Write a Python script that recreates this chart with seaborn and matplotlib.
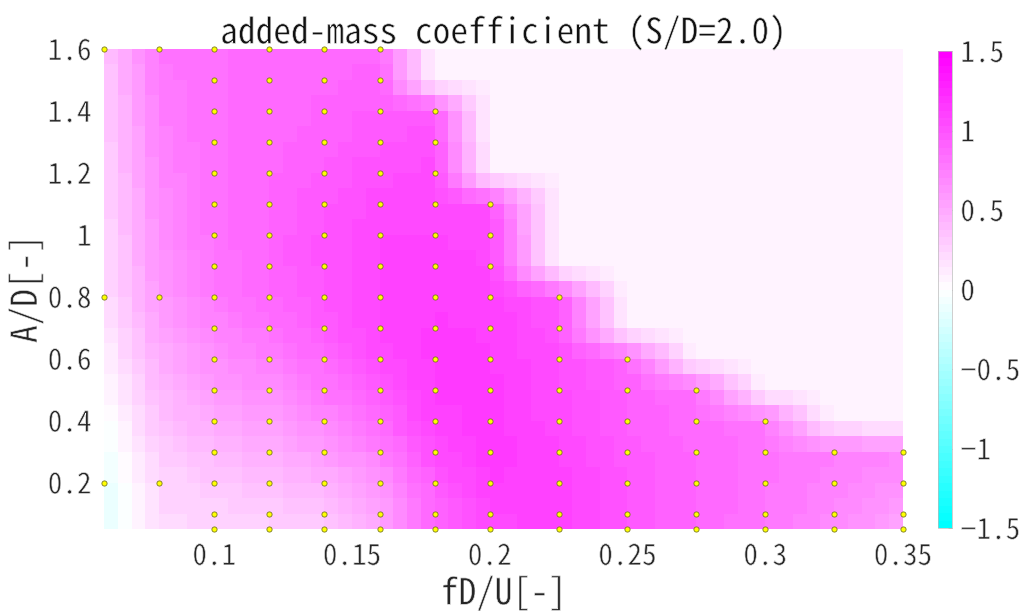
import numpy as np
import pandas as pd
import matplotlib
matplotlib.use("Agg")
import matplotlib.pyplot as plt
import matplotlib.patheffects as pe
import seaborn as sns
from matplotlib.colors import LinearSegmentedColormap

# Measurement grid
fd_u = [0.06, 0.08, 0.10, 0.12, 0.14, 0.16, 0.18, 0.20, 0.225, 0.25, 0.275, 0.30, 0.325, 0.35]
ad_sparse = [1.6, 0.8, 0.2]
ad_full = [1.6, 1.5, 1.4, 1.3, 1.2, 1.1, 1.0, 0.9, 0.8, 0.7, 0.6, 0.5, 0.4, 0.3, 0.2, 0.1, 0.05]

# Added-mass coefficient per fD/U column, from the highest measured A/D downward
cm_006 = [0.32, 0.18, -0.15]
cm_008 = [0.80, 0.60, 0.23]
cm_010 = [0.84, 0.84, 0.84, 0.84, 0.83, 0.83, 0.82, 0.80, 0.79, 0.72, 0.66, 0.60, 0.50, 0.40, 0.32, 0.26, 0.22]
cm_012 = [0.86, 0.86, 0.86, 0.87, 0.88, 0.89, 0.90, 0.90, 0.88, 0.82, 0.75, 0.66, 0.57, 0.47, 0.38, 0.30, 0.26]
cm_014 = [0.86, 0.88, 0.90, 0.92, 0.95, 0.98, 1.00, 1.00, 0.98, 0.95, 0.88, 0.80, 0.70, 0.58, 0.45, 0.34, 0.32]
cm_016 = [0.88, 0.92, 0.95, 0.98, 1.02, 1.05, 1.08, 1.08, 1.08, 1.08, 1.05, 0.98, 0.88, 0.75, 0.62, 0.52, 0.55]
cm_018 = [0.95, 1.02, 1.04, 1.06, 1.08, 1.10, 1.12, 1.13, 1.14, 1.13, 1.10, 1.05, 0.95, 0.88, 0.92]
cm_020 = [1.02, 1.05, 1.08, 1.10, 1.12, 1.13, 1.14, 1.15, 1.16, 1.12, 1.06, 1.06]
cm_0225 = [0.98, 1.00, 1.03, 1.04, 1.05, 1.08, 1.10, 1.12, 1.12]
cm_025 = [0.90, 0.93, 0.94, 0.96, 0.98, 0.98, 0.98]
cm_0275 = [0.84, 0.86, 0.88, 0.89, 0.89, 0.88]
cm_030 = [0.80, 0.82, 0.80, 0.80, 0.78]
cm_0325 = [0.75, 0.73, 0.70, 0.66]
cm_035 = [0.70, 0.65, 0.56, 0.52]

# Level used where no run was made (high amplitude, high frequency)
cm_unmeasured = 0.07

columns = [cm_006, cm_008, cm_010, cm_012, cm_014, cm_016, cm_018, cm_020,
           cm_0225, cm_025, cm_0275, cm_030, cm_0325, cm_035]

rows = []
for f, vals in zip(fd_u, columns):
    ads = ad_sparse if f < 0.09 else ad_full[-len(vals):]
    for a, v in zip(ads, vals):
        rows.append((f, a, v))
df = pd.DataFrame(rows, columns=["fD/U", "A/D", "Cm"])

# Node table on the rectilinear measurement grid (A/D ascending)
ad_nodes = np.array(sorted(ad_full))
node = np.full((len(ad_nodes), len(fd_u)), np.nan)
for j, f in enumerate(fd_u):
    sub = df[df["fD/U"] == f].sort_values("A/D")
    if f < 0.09:
        node[:, j] = np.interp(ad_nodes, sub["A/D"], sub["Cm"])
    else:
        for a, v in zip(sub["A/D"], sub["Cm"]):
            node[np.isclose(ad_nodes, a), j] = v
node = np.where(np.isnan(node), cm_unmeasured, node)

# Fine mesh: linear interpolation of the node table, evaluated at face centres
xe = np.linspace(0.06, 0.35, 59)
ye = np.linspace(0.05, 1.6, 32)
xc = 0.5 * (xe[:-1] + xe[1:])
yc = 0.5 * (ye[:-1] + ye[1:])
tmp = np.array([np.interp(xc, fd_u, node[i]) for i in range(len(ad_nodes))])
faces = np.array([np.interp(yc, ad_nodes, tmp[:, k]) for k in range(len(xc))]).T

sns.set_style("white")
plt.rcParams["font.family"] = ["Noto Sans Mono CJK JP", "Liberation Mono", "DejaVu Sans"]
plt.rcParams["axes.unicode_minus"] = True

# thin the glyph strokes a little (all text sits on a white background)
thin = [pe.Normal(), pe.Stroke(linewidth=0.5, foreground="white")]

cmap = LinearSegmentedColormap.from_list("cool_div", ["#00FFFF", "#FFFFFF", "#FF00FF"], N=64)

fig = plt.figure(figsize=(10.19, 6.16), dpi=100)
ax = fig.add_axes([104 / 1019, 1 - 529 / 616, (903 - 104) / 1019, (529 - 49) / 616])
mesh = ax.pcolormesh(xe, ye, faces, cmap=cmap, vmin=-1.5, vmax=1.5, shading="flat")

sns.scatterplot(data=df, x="fD/U", y="A/D", color="#FFFF00", edgecolor="#7a7a20",
                s=14, linewidth=0.6, ax=ax, zorder=3, clip_on=False, legend=False)

ax.set_xlim(0.06, 0.35)
ax.set_ylim(0.05, 1.6)
xt = [0.1, 0.15, 0.2, 0.25, 0.3, 0.35]
yt = [0.2, 0.4, 0.6, 0.8, 1.0, 1.2, 1.4, 1.6]
ax.set_xticks(xt)
ax.set_xticklabels([f"{v:g}" for v in xt])
ax.set_yticks(yt)
ax.set_yticklabels([f"{v:g}" for v in yt])
ax.tick_params(axis="both", length=0, labelsize=21, colors="#262626")
ax.tick_params(axis="x", pad=10)
ax.tick_params(axis="y", pad=9)
for s in ax.spines.values():
    s.set_visible(False)
ax.set_xlabel("fD/U[-]", fontsize=26, labelpad=4, color="#262626")
ax.set_ylabel("A/D[-]", fontsize=26, labelpad=2, color="#262626")
ax.set_title("added-mass coefficient (S/D=2.0)", fontsize=25.5, pad=4, color="#111111")

cax = fig.add_axes([938 / 1019, 1 - 528 / 616, 14 / 1019, (528 - 51) / 616])
cb = fig.colorbar(mesh, cax=cax, ticks=[-1.5, -1, -0.5, 0, 0.5, 1, 1.5])
cb.ax.set_yticklabels(["\u22121.5", "\u22121", "\u22120.5", "0", "0.5", "1", "1.5"])
cb.ax.tick_params(labelsize=21, length=3, width=0.6, color="#aaaaaa", direction="in", pad=6, colors="#262626")
cb.outline.set_linewidth(0.5)
cb.outline.set_edgecolor("#bbbbbb")

texts = (ax.get_xticklabels() + ax.get_yticklabels() + cb.ax.get_yticklabels()
         + [ax.xaxis.label, ax.yaxis.label, ax.title])
for t in texts:
    t.set_path_effects(thin)

fig.savefig("out.png", dpi=100)
